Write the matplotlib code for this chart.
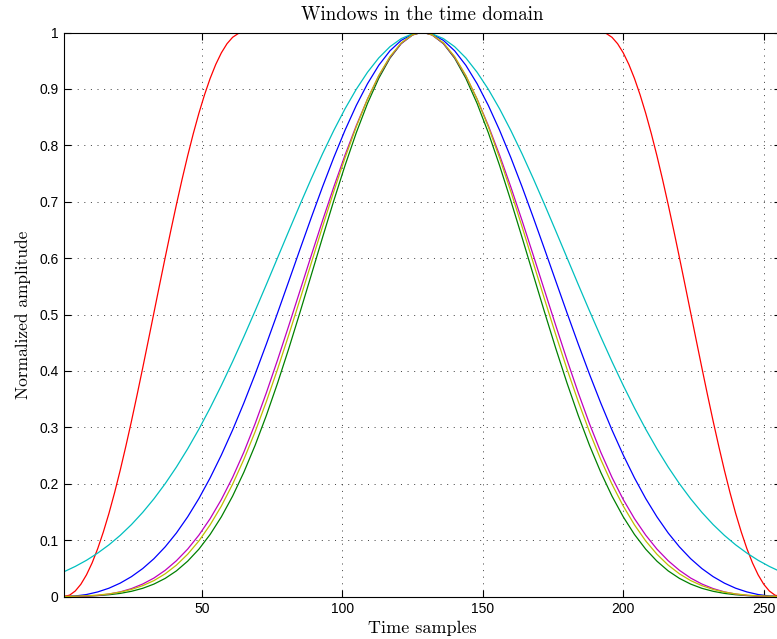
import matplotlib
matplotlib.use("Agg")
import matplotlib.pyplot as plt

# Sample indices (1..256) at which the windows are tabulated
samples = [1, 5, 9, 13, 17, 21, 25, 29, 33, 37, 41, 45, 49, 53, 57, 61,
           65, 69, 73, 77, 81, 85, 89, 93, 97, 101, 105, 109, 113, 117, 121, 125,
           128, 129,
           132, 136, 140, 144, 148, 152, 156, 160, 164, 168, 172, 176, 180, 184, 188, 192,
           196, 200, 204, 208, 212, 216, 220, 224, 228, 232, 236, 240, 244, 248, 252, 256]

# The flat-top window is tabulated more densely along its tapers
red_samples = [1, 3, 5, 7, 9, 11, 13, 15, 17, 19, 21, 23, 25, 27, 29, 31,
               33, 35, 37, 39, 41, 43, 45, 47, 49, 51, 53, 55, 57, 59, 61, 63,
               64, 65, 192, 193,
               194, 196, 198, 200, 202, 204, 206, 208, 210, 212, 214, 216, 218, 220, 222, 224,
               226, 228, 230, 232, 234, 236, 238, 240, 242, 244, 246, 248, 250, 252, 254, 256]

blue = [0.0000, 0.0009, 0.0035, 0.0081, 0.0147, 0.0237, 0.0352, 0.0495, 0.0670, 0.0880, 0.1126,
        0.1412, 0.1737, 0.2103, 0.2509, 0.2952, 0.3431, 0.3940, 0.4475, 0.5028, 0.5592, 0.6159,
        0.6719, 0.7264, 0.7783, 0.8267, 0.8706, 0.9092, 0.9418, 0.9676, 0.9861, 0.9970, 0.9999,
        0.9999, 0.9970, 0.9861, 0.9676, 0.9418, 0.9092, 0.8706, 0.8267, 0.7783, 0.7264, 0.6719,
        0.6159, 0.5592, 0.5028, 0.4475, 0.3940, 0.3431, 0.2952, 0.2509, 0.2103, 0.1737, 0.1412,
        0.1126, 0.0880, 0.0670, 0.0495, 0.0352, 0.0237, 0.0147, 0.0081, 0.0035, 0.0009, 0.0000]

green = [0.0001, 0.0002, 0.0007, 0.0016, 0.0031, 0.0055, 0.0092, 0.0145, 0.0220, 0.0321, 0.0454,
         0.0626, 0.0839, 0.1100, 0.1413, 0.1780, 0.2203, 0.2680, 0.3209, 0.3784, 0.4398, 0.5042,
         0.5702, 0.6366, 0.7018, 0.7642, 0.8222, 0.8742, 0.9187, 0.9545, 0.9804, 0.9957, 0.9999,
         0.9999, 0.9957, 0.9804, 0.9545, 0.9187, 0.8742, 0.8222, 0.7642, 0.7018, 0.6366, 0.5702,
         0.5042, 0.4398, 0.3784, 0.3209, 0.2680, 0.2203, 0.1780, 0.1413, 0.1100, 0.0839, 0.0626,
         0.0454, 0.0321, 0.0220, 0.0145, 0.0092, 0.0055, 0.0031, 0.0016, 0.0007, 0.0002, 0.0001]

red = [0.0000, 0.0024, 0.0097, 0.0217, 0.0384, 0.0595, 0.0849, 0.1144, 0.1475, 0.1841, 0.2238,
       0.2663, 0.3108, 0.3573, 0.4051, 0.4539, 0.5031, 0.5523, 0.6009, 0.6486, 0.6949, 0.7393,
       0.7813, 0.8206, 0.8568, 0.8895, 0.9185, 0.9434, 0.9640, 0.9801, 0.9915, 0.9981,
       0.9997, 1.0000, 1.0000, 0.9997,
       0.9981, 0.9915, 0.9801, 0.9640, 0.9434, 0.9185, 0.8895, 0.8568, 0.8206, 0.7813, 0.7393,
       0.6949, 0.6486, 0.6009, 0.5523, 0.5031, 0.4539, 0.4051, 0.3573, 0.3108, 0.2663, 0.2238,
       0.1841, 0.1475, 0.1144, 0.0849, 0.0595, 0.0384, 0.0217, 0.0097, 0.0024, 0.0000]

cyan = [0.0439, 0.0533, 0.0642, 0.0770, 0.0916, 0.1084, 0.1275, 0.1491, 0.1732, 0.2000, 0.2295,
        0.2618, 0.2967, 0.3343, 0.3743, 0.4165, 0.4606, 0.5063, 0.5531, 0.6006, 0.6481, 0.6951,
        0.7409, 0.7849, 0.8263, 0.8647, 0.8993, 0.9295, 0.9549, 0.9749, 0.9892, 0.9976, 1.0000,
        1.0000, 0.9976, 0.9892, 0.9749, 0.9549, 0.9295, 0.8993, 0.8647, 0.8263, 0.7849, 0.7409,
        0.6951, 0.6481, 0.6006, 0.5531, 0.5063, 0.4606, 0.4165, 0.3743, 0.3343, 0.2967, 0.2618,
        0.2295, 0.2000, 0.1732, 0.1491, 0.1275, 0.1084, 0.0916, 0.0770, 0.0642, 0.0533, 0.0439]

magenta = [0.0000, 0.0001, 0.0006, 0.0019, 0.0043, 0.0082, 0.0140, 0.0221, 0.0327, 0.0464, 0.0634,
           0.0840, 0.1088, 0.1380, 0.1720, 0.2112, 0.2559, 0.3062, 0.3611, 0.4195, 0.4804, 0.5425,
           0.6049, 0.6665, 0.7261, 0.7826, 0.8349, 0.8820, 0.9227, 0.9559, 0.9806, 0.9956, 0.9999,
           0.9999, 0.9956, 0.9806, 0.9559, 0.9227, 0.8820, 0.8349, 0.7826, 0.7261, 0.6665, 0.6049,
           0.5425, 0.4804, 0.4195, 0.3611, 0.3062, 0.2559, 0.2112, 0.1720, 0.1380, 0.1088, 0.0840,
           0.0634, 0.0464, 0.0327, 0.0221, 0.0140, 0.0082, 0.0043, 0.0019, 0.0006, 0.0001, 0.0000]

yellow = [0.0001, 0.0005, 0.0012, 0.0025, 0.0046, 0.0078, 0.0125, 0.0192, 0.0282, 0.0402, 0.0556,
          0.0749, 0.0985, 0.1270, 0.1604, 0.1991, 0.2430, 0.2919, 0.3455, 0.4031, 0.4640, 0.5271,
          0.5914, 0.6556, 0.7182, 0.7777, 0.8327, 0.8819, 0.9238, 0.9574, 0.9817, 0.9960, 0.9999,
          0.9999, 0.9960, 0.9817, 0.9574, 0.9238, 0.8819, 0.8327, 0.7777, 0.7182, 0.6556, 0.5914,
          0.5271, 0.4640, 0.4031, 0.3455, 0.2919, 0.2430, 0.1991, 0.1604, 0.1270, 0.0985, 0.0749,
          0.0556, 0.0402, 0.0282, 0.0192, 0.0125, 0.0078, 0.0046, 0.0025, 0.0012, 0.0005, 0.0001]

# Drawing order and colours (blue, green, red, cyan, magenta, yellow)
series = [
    (samples, blue, (0.0, 0.0, 1.0)),
    (samples, green, (0.0, 0.5, 0.0)),
    (red_samples, red, (1.0, 0.0, 0.0)),
    (samples, cyan, (0.0, 0.75, 0.75)),
    (samples, magenta, (0.75, 0.0, 0.75)),
    (samples, yellow, (0.75, 0.75, 0.0)),
]

x_ticks = [50, 100, 150, 200, 250]
y_ticks = [0, 0.1, 0.2, 0.3, 0.4, 0.5, 0.6, 0.7, 0.8, 0.9, 1]
y_tick_labels = ["0", "0.1", "0.2", "0.3", "0.4", "0.5", "0.6", "0.7", "0.8", "0.9", "1"]

W, H = 777, 639
fig = plt.figure(figsize=(W / 100, H / 100), dpi=100)
ax = fig.add_axes([64 / W, 42.5 / H, 716.6 / W, 564 / H])

for xs, vals, col in series:
    ax.plot(xs, vals, color=col, lw=0.9, solid_joinstyle="round")

ax.set_xlim(1, 256)
ax.set_ylim(0, 1)
ax.set_xticks(x_ticks)
ax.set_yticks(y_ticks)
ax.set_yticklabels(y_tick_labels)

tick_font = "Liberation Sans"
for lab in ax.get_xticklabels() + ax.get_yticklabels():
    lab.set_fontfamily(tick_font)
    lab.set_fontsize(10)

ax.tick_params(direction="in", length=5, width=0.8, top=True, right=True,
               colors="black", pad=4)
for sp in ax.spines.values():
    sp.set_linewidth(0.8)
    sp.set_color("black")

ax.grid(True, color="black", linewidth=0.5, linestyle=(0, (1.5, 8)))
ax.set_axisbelow(True)

serif = "cmr10"
ax.set_title("Windows in the time domain", fontfamily=serif, fontsize=13.7, pad=9)
ax.set_xlabel("Time samples", fontfamily=serif, fontsize=13, labelpad=3)
ax.set_ylabel("Normalized amplitude", fontfamily=serif, fontsize=12.5, labelpad=6)

fig.savefig("out.png", dpi=100)
